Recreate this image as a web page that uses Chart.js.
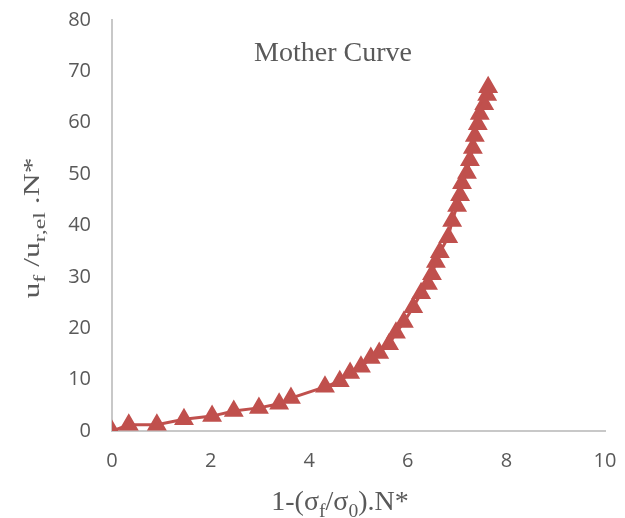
<!DOCTYPE html>
<html>
<head>
<meta charset="utf-8">
<script src="https://cdn.jsdelivr.net/npm/chart.js@4"></script>
<style>
  html, body { margin: 0; padding: 0; background: #fff; }
  #wrap { width: 625px; height: 518px; }
</style>
</head>
<body>
<div id="wrap"><canvas id="myChart" width="625" height="518"></canvas></div>
<script>
// mother curve points
const xValues = [0, 0.34, 0.91, 1.46, 2.03, 2.47, 2.98, 3.39, 3.63, 4.32, 4.62, 4.83, 5.05, 5.25, 5.42, 5.62,
  5.76, 5.92, 6.11, 6.27, 6.41, 6.49, 6.57, 6.65, 6.82, 6.90, 7.00, 7.06, 7.10, 7.20, 7.26, 7.32, 7.36, 7.42,
  7.46, 7.55, 7.61, 7.63];
const yValues = [0, 1.2, 1.2, 2.3, 2.9, 3.9, 4.5, 5.3, 6.4, 8.6, 9.7, 11.3, 12.5, 14.2, 15.2, 16.9,
  19.1, 21.2, 24.1, 26.8, 28.6, 30.5, 32.9, 34.8, 37.7, 40.9, 43.8, 45.9, 48.2, 50.2, 52.7, 55.1, 57.4, 59.7,
  61.7, 63.6, 65.4, 66.9];
const xTicks = [0, 2, 4, 6, 8, 10];
const yTicks = [0, 10, 20, 30, 40, 50, 60, 70, 80];
const chartTitle = "Mother Curve";

const points = xValues.map((x, i) => ({ x, y: yValues[i] }));

// draws text pieces centred on the origin, some of them lowered as subscripts
function drawRich(ctx, parts, size, subScale) {
  const font = (p) => (p.sub ? size * subScale : size) + "px 'Liberation Serif', serif";
  let w = 0;
  parts.forEach((p) => {
    ctx.font = font(p);
    w += ctx.measureText(p.t).width;
  });
  let x = -w / 2;
  parts.forEach((p) => {
    ctx.font = font(p);
    ctx.fillText(p.t, x, p.sub ? size * 0.25 : 0);
    x += ctx.measureText(p.t).width;
  });
}

const labelsPlugin = {
  id: "labels",
  afterDraw(chart) {
    const ctx = chart.ctx;
    ctx.save();
    ctx.fillStyle = "#595959";
    ctx.textBaseline = "alphabetic";
    ctx.textAlign = "center";
    ctx.font = "28px 'Liberation Serif', serif";
    ctx.fillText(chartTitle, 333, 61);

    ctx.textAlign = "left";
    ctx.translate(340, 510);
    drawRich(ctx, [
      { t: "1-(σ" }, { t: "f", sub: true }, { t: "/σ" }, { t: "0", sub: true }, { t: ").N*" }
    ], 28, 0.7);
    ctx.restore();

    ctx.save();
    ctx.fillStyle = "#595959";
    ctx.textAlign = "left";
    ctx.translate(39, 228);
    ctx.rotate(-Math.PI / 2);
    ctx.scale(1.38, 1);
    drawRich(ctx, [
      { t: "u" }, { t: "f", sub: true }, { t: " /u" }, { t: "r,el", sub: true }, { t: " .N*" }
    ], 23, 0.75);
    ctx.restore();
  }
};

const tickFont = { family: "'Open Sans'", size: 20 };

const config = {
  type: "scatter",
  data: {
    datasets: [
      {
        data: points,
        showLine: true,
        borderColor: "#c0504d",
        backgroundColor: "#c0504d",
        borderWidth: 3,
        pointStyle: "triangle",
        pointRadius: 8.5,
        pointHoverRadius: 8.5,
      },
    ],
  },
  options: {
    responsive: false,
    animation: false,
    layout: { padding: { top: 20, right: 20, left: 0, bottom: 0 } },
    plugins: {
      legend: { display: false },
      tooltip: { enabled: false },
    },
    scales: {
      x: {
        type: "linear",
        min: 0,
        max: 10,
        afterBuildTicks: (axis) => { axis.ticks = xTicks.map((v) => ({ value: v })); },
        afterFit: (axis) => {
          axis.height = 87;
          axis.paddingLeft = 0;
          axis.paddingRight = 0;
        },
        grid: { display: false, drawTicks: false },
        border: { color: "#c8c8c8", width: 2 },
        ticks: { color: "#595959", font: tickFont, padding: 18 },
      },
      y: {
        type: "linear",
        min: 0,
        max: 80,
        afterBuildTicks: (axis) => { axis.ticks = yTicks.map((v) => ({ value: v })); },
        afterFit: (axis) => {
          axis.width = 112;
          axis.paddingTop = 0;
          axis.paddingBottom = 0;
        },
        grid: { display: false, drawTicks: false },
        border: { color: "#c8c8c8", width: 2 },
        ticks: { color: "#595959", font: tickFont, padding: 21 },
      },
    },
  },
  plugins: [labelsPlugin],
};

new Chart(document.getElementById("myChart"), config);
</script>
</body>
</html>
